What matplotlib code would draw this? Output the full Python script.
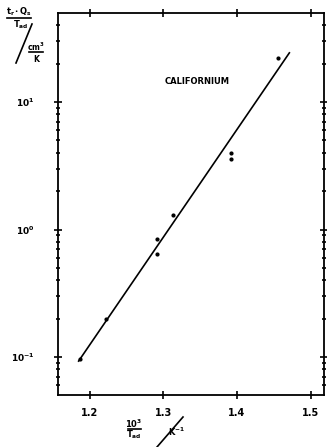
import numpy as np
import matplotlib
matplotlib.use('Agg')
import matplotlib.pyplot as plt
from matplotlib.lines import Line2D

plt.close('all')

# measured points (10^3/T_ad , t_r*Q_s/T_ad)
x_pts = [1.187, 1.222, 1.291, 1.291, 1.313, 1.392, 1.392, 1.455]
y_pts = [0.097, 0.20, 0.85, 0.64, 1.29, 4.0, 3.6, 22.0]

# fitted line end points
x_fit = [1.185, 1.471]
y_fit = [0.093, 24.3]

x_ticks = [1.2, 1.3, 1.4, 1.5]
x_ticklabels = ['1.2', '1.3', '1.4', '1.5']
y_ticks = [0.1, 1, 10]
y_ticklabels = [r'$\mathbf{10^{-1}}$', r'$\mathbf{10^{0}}$', r'$\mathbf{10^{1}}$']

fig = plt.figure(figsize=(3.27, 4.47), dpi=100)
ax = fig.add_axes([58 / 327, 52 / 447, 266 / 327, 382 / 447])

ax.plot(x_fit, y_fit, color='black', lw=1.2)
ax.plot(x_pts, y_pts, 'o', color='black', ms=2)

ax.set_yscale('log')
ax.set_xlim(1.157, 1.518)
ax.set_ylim(0.0504, 49.9)

ax.set_xticks(x_ticks)
ax.set_xticklabels(x_ticklabels, fontsize=7, fontweight='bold')
ax.set_yticks(y_ticks)
ax.set_yticklabels(y_ticklabels, fontsize=6.5)

ax.tick_params(which='both', direction='inout', top=True, right=True, width=1.2)
ax.tick_params(which='major', length=6)
ax.tick_params(which='minor', length=3)
ax.tick_params(axis='x', pad=6)
ax.tick_params(axis='y', pad=14)
for s in ax.spines.values():
    s.set_linewidth(1.3)


def px(x, y):
    return x / 327, 1 - y / 447


fig.text(*px(165, 81), 'CALIFORNIUM', fontsize=6, fontweight='bold',
         va='center', ha='left')

# y axis label, drawn as fractions with a slash
fig.text(*px(19, 12), r'$\mathbf{t_r \cdot Q_s}$', fontsize=6, ha='center', va='center')
fig.add_artist(Line2D([7 / 327, 31 / 327], [1 - 18 / 447, 1 - 18 / 447], color='black', lw=1.2))
fig.text(*px(21, 25), r'$\mathbf{T_{ad}}$', fontsize=6, ha='center', va='center')
fig.add_artist(Line2D([16 / 327, 32 / 327], [1 - 63 / 447, 1 - 24 / 447], color='black', lw=1.2))
fig.text(*px(36, 47), r'$\mathbf{cm^3}$', fontsize=5.5, ha='center', va='center')
fig.add_artist(Line2D([29 / 327, 43 / 327], [1 - 52 / 447, 1 - 52 / 447], color='black', lw=1.2))
fig.text(*px(37, 58), r'$\mathbf{K}$', fontsize=5.5, ha='center', va='center')

# x axis label
fig.text(*px(134, 424), r'$\mathbf{10^3}$', fontsize=6, ha='center', va='center')
fig.add_artist(Line2D([128 / 327, 141 / 327], [1 - 429 / 447, 1 - 429 / 447], color='black', lw=1.2))
fig.text(*px(134, 435), r'$\mathbf{T_{ad}}$', fontsize=6, ha='center', va='center')
fig.add_artist(Line2D([157 / 327, 183 / 327], [1 - 447 / 447, 1 - 417 / 447], color='black', lw=1.2))
fig.text(*px(177, 432), r'$\mathbf{K^{-1}}$', fontsize=6, ha='center', va='center')

fig.savefig('out.png', dpi=100)
